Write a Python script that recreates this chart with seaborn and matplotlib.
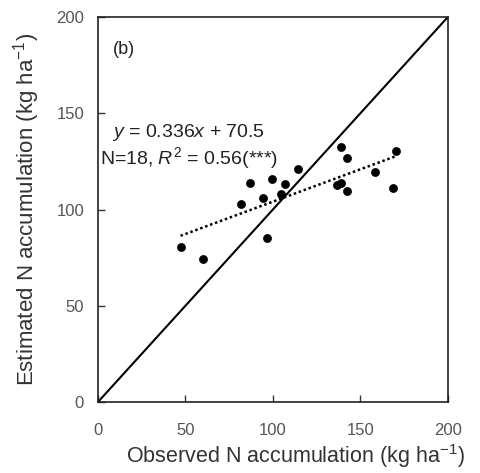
import matplotlib
matplotlib.use('Agg')
import matplotlib.pyplot as plt
import seaborn as sns
import pandas as pd
import numpy as np

# Valeurs
observed = [47.2, 59.8, 81.5, 86.9, 94.1, 96.6, 99.4, 104.8, 106.7, 114.5,
            136.4, 139.0, 138.7, 142.1, 142.5, 158.5, 168.4, 170.3]
estimated = [80.7, 74.3, 103.0, 113.9, 106.0, 85.0, 115.8, 107.9, 113.2, 120.9,
             112.7, 114.0, 132.6, 109.6, 126.6, 119.6, 111.3, 130.5]
slope = 0.336
intercept = 70.5
ticks = [0, 50, 100, 150, 200]

df = pd.DataFrame({'obs': observed, 'est': estimated})

sns.set_style('ticks')
plt.rcParams['font.family'] = ['Liberation Sans', 'DejaVu Sans']
plt.rcParams['mathtext.fontset'] = 'custom'
plt.rcParams['mathtext.rm'] = 'Liberation Sans'
plt.rcParams['mathtext.it'] = 'Liberation Sans:italic'

fig = plt.figure(figsize=(4.8, 4.73), dpi=100)
ax = fig.add_axes([0.204, 0.150, 0.729, 0.814])

# Ligne 1:1
sns.lineplot(x=[0, 200], y=[0, 200], color='black', linewidth=1.5, ax=ax)

# Droite de régression
xr = np.array([min(observed), max(observed)])
ax.plot(xr, slope * xr + intercept, color='black', linewidth=1.8,
        linestyle=(0, (1, 1.1)))

sns.scatterplot(data=df, x='obs', y='est', color='black', s=34,
                edgecolor='black', ax=ax, zorder=3)

ax.set_xlim(0, 200)
ax.set_ylim(0, 200)
ax.set_xticks(ticks)
ax.set_yticks(ticks)
ax.tick_params(direction='in', length=5, width=1, labelsize=12,
               colors='#333333', labelcolor='#555555')
ax.tick_params(axis='x', pad=15)
ax.tick_params(axis='y', pad=10)
for sp in ax.spines.values():
    sp.set_color('#222222')
    sp.set_linewidth(1.2)

ax.text(15, 183, '(b)', fontsize=13, ha='center', va='center', color='#222222')
ax.text(52, 140, '$y$ = 0.336$x$ + 70.5', fontsize=14, ha='center', va='center',
        color='#222222')
ax.text(52, 127, 'N=18, $R^2$ = 0.56(***)', fontsize=14, ha='center', va='center',
        color='#222222')

ax.set_xlabel('Observed N accumulation (kg ha$^{-1}$)', fontsize=15.5, color='#333333')
ax.set_ylabel('Estimated N accumulation (kg ha$^{-1}$)', fontsize=16, color='#333333',
              labelpad=10)
ax.xaxis.set_label_coords(0.565, -0.105)

fig.savefig('out.png', dpi=100)
